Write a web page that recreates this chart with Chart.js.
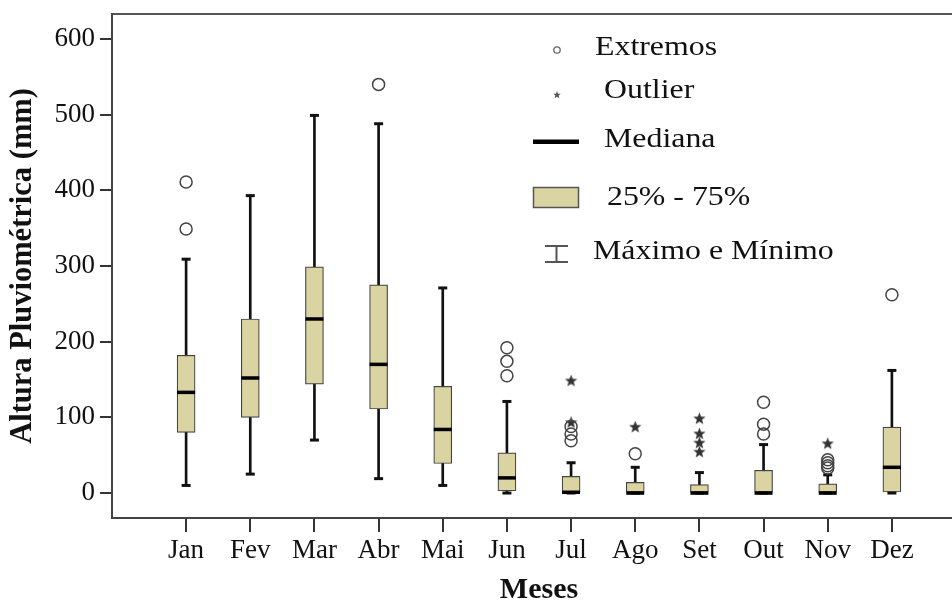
<!DOCTYPE html>
<html>
<head>
<meta charset="utf-8">
<script src="https://cdn.jsdelivr.net/npm/chart.js@4.4.0/dist/chart.umd.min.js"></script>
<style>
  html, body { margin: 0; padding: 0; background: #fff; overflow: hidden; }
  #wrap { width: 952px; height: 608px; overflow: hidden; }
</style>
</head>
<body>
<div id="wrap"><canvas id="boxChart" width="966" height="608"></canvas></div>
<script>
// monthly rainfall summary (mm)
const months = ['Jan', 'Fev', 'Mar', 'Abr', 'Mai', 'Jun', 'Jul', 'Ago', 'Set', 'Out', 'Nov', 'Dez'];
const whiskerLow  = [10, 25, 70, 19, 10, 0, 0, 0, 0, 0, 0, 0];
const quartile1   = [80, 100, 144, 111, 39, 3, 0, 0, 0, 0, 0, 0];
const medians     = [133, 152, 230, 170, 84, 20, 1, 0, 0, 0, 0, 34];
const quartile3   = [182, 230, 299, 275, 141, 53, 22, 14, 11, 30, 12, 87];
const whiskerHigh = [309, 393, 499, 488, 271, 121, 40, 34, 27, 64, 24, 162];
const extremes = [[411, 349], [], [], [540], [], [192, 174, 155], [88, 78, 69], [52], [], [120, 91, 78], [44, 40, 36, 33], [262]];
const outliers = [[], [], [], [], [], [], [148, 93], [87], [98, 78, 66, 54], [], [65], []];
const yTicks = [0, 100, 200, 300, 400, 500, 600];
const legendLabels = ['Extremos', 'Outlier', 'Mediana', '25% - 75%', 'Máximo e Mínimo'];

const BOX_FILL = '#d9d4a2';
const SERIF = '"Liberation Serif", "Times New Roman", serif';


function makeStar(size, color) {

    const c = document.createElement('canvas');
    c.width = c.height = size;
    const g = c.getContext('2d');
    const r = size / 2;
    const ri = r * 0.42;

    g.beginPath();
    for (let i = 0; i < 10; i++) {
        const a = -Math.PI / 2 + i * Math.PI / 5;
        const rr = i % 2 ? ri : r;
        g.lineTo(r + rr * Math.cos(a), r + rr * Math.sin(a));
    }
    g.closePath();
    g.fillStyle = color;
    g.fill();
    return c;
}

const starPoint = makeStar(13, '#333');
const starSmall = makeStar(8, '#555');

const atMonth = (vals) => vals.map((v, i) => ({ x: i + 1, y: v }));
const whiskerData = months.map((m, i) => ({ x: i + 1, y: [whiskerLow[i], whiskerHigh[i]] }));
const boxData = months.map((m, i) => ({ x: i + 1, y: [quartile1[i], quartile3[i]] }));
const capData = atMonth(whiskerLow).concat(atMonth(whiskerHigh));
const extremeData = extremes.flatMap((list, i) => list.map(v => ({ x: i + 1, y: v })));
const outlierData = outliers.flatMap((list, i) => list.map(v => ({ x: i + 1, y: v })));


// legend box drawn inside the plot, top right
const legendPlugin = {

    id: 'boxLegend',
    afterDraw(chart) {

        const ctx = chart.ctx;
        ctx.save();

        // icons
        ctx.strokeStyle = '#666';
        ctx.lineWidth = 1.3;
        ctx.beginPath();
        ctx.arc(557, 50, 3.2, 0, Math.PI * 2);
        ctx.stroke();

        ctx.drawImage(starSmall, 553, 91);

        ctx.fillStyle = '#000';
        ctx.fillRect(533, 139.5, 46, 4.5);

        ctx.fillStyle = BOX_FILL;
        ctx.strokeStyle = '#555';
        ctx.lineWidth = 1.5;
        ctx.fillRect(533.5, 187.5, 45, 20);
        ctx.strokeRect(533.5, 187.5, 45, 20);

        ctx.strokeStyle = '#555';
        ctx.lineWidth = 2;
        ctx.beginPath();
        ctx.moveTo(545, 246); ctx.lineTo(568, 246);
        ctx.moveTo(556.5, 246); ctx.lineTo(556.5, 262);
        ctx.moveTo(545, 262); ctx.lineTo(568, 262);
        ctx.stroke();

        // labels
        const rows = [[595, 48], [604, 91], [604, 140], [607, 198], [593, 252]];
        ctx.font = '27px ' + SERIF;
        ctx.fillStyle = '#111';
        ctx.textBaseline = 'middle';
        legendLabels.forEach((text, i) => {
            ctx.save();
            ctx.translate(rows[i][0], rows[i][1]);
            ctx.scale(1.18, 1);
            ctx.fillText(text, 0, 0);
            ctx.restore();
        });

        ctx.restore();
    }
};


function initializeChart() {

    const ctx = document.getElementById('boxChart').getContext('2d');

    new Chart(ctx, {

        type: 'scatter',
        data: {

            datasets: [
                {
                    label: 'Extremos',
                    data: extremeData,
                    pointStyle: 'circle',
                    pointRadius: 6,
                    pointBorderWidth: 1.5,
                    pointBorderColor: '#444',
                    pointBackgroundColor: 'rgba(0,0,0,0)',
                    order: 0
                },
                {
                    label: 'Outlier',
                    data: outlierData,
                    pointStyle: starPoint,
                    order: 0
                },
                {
                    label: 'Mediana',
                    data: atMonth(medians),
                    pointStyle: 'line',
                    pointRadius: 9,
                    pointBorderWidth: 3.5,
                    pointBorderColor: '#000',
                    order: 1
                },
                {
                    label: 'Máximo e Mínimo',
                    data: capData,
                    pointStyle: 'line',
                    pointRadius: 4.5,
                    pointBorderWidth: 3,
                    pointBorderColor: '#111',
                    order: 1
                },
                {
                    type: 'bar',
                    label: '25% - 75%',
                    data: boxData,
                    grouped: false,
                    barThickness: 18,
                    backgroundColor: BOX_FILL,
                    borderColor: '#444',
                    borderWidth: 1.2,
                    borderSkipped: false,
                    order: 2
                },
                {
                    type: 'bar',
                    label: 'whisker',
                    data: whiskerData,
                    grouped: false,
                    barThickness: 2,
                    backgroundColor: '#111',
                    borderWidth: 0,
                    order: 3
                }
            ]
        },
        options: {

            responsive: false,
            animation: false,
            events: [],
            layout: { autoPadding: false, padding: { top: 14, left: 0, right: 0, bottom: 0 } },
            plugins: {
                legend: { display: false },
                tooltip: { enabled: false }
            },
            scales: {

                x: {
                    type: 'linear',
                    position: 'bottom',
                    bounds: 'data',
                    min: -0.155,
                    max: 13.155,
                    offset: false,
                    afterFit: (scale) => { scale.height = 90; },
                    afterBuildTicks: (scale) => {
                        scale.ticks = months.map((m, i) => ({ value: i + 1 }));
                    },
                    ticks: {
                        includeBounds: false,
                        autoSkip: false,
                        maxRotation: 0,
                        padding: 3,
                        color: '#111',
                        font: { family: SERIF, size: 27 },
                        callback: (value) => months[value - 1] || ''
                    },
                    grid: {
                        offset: false,
                        drawOnChartArea: false,
                        tickLength: 14,
                        color: '#333',
                        lineWidth: 2
                    },
                    border: { display: true, color: '#444', width: 2 },
                    title: {
                        display: true,
                        text: 'Meses',
                        color: '#111',
                        font: { family: SERIF, size: 30, weight: 'bold' },
                        padding: { top: 0, bottom: 0 }
                    }
                },
                xTop: {
                    type: 'linear',
                    position: 'top',
                    afterFit: (scale) => { scale.height = 0; },
                    ticks: { display: false },
                    grid: { drawOnChartArea: false, drawTicks: false },
                    border: { display: true, color: '#555', width: 2 }
                },
                y: {
                    type: 'linear',
                    bounds: 'data',
                    min: -33,
                    max: 633,
                    afterFit: (scale) => { scale.width = 112; },
                    afterBuildTicks: (scale) => {
                        scale.ticks = yTicks.map(v => ({ value: v }));
                    },
                    ticks: {
                        includeBounds: false,
                        padding: 5,
                        color: '#111',
                        font: { family: SERIF, size: 27, lineHeight: 0.6 }
                    },
                    grid: {
                        drawOnChartArea: false,
                        tickLength: 12,
                        color: '#333',
                        lineWidth: 2
                    },
                    border: { display: true, color: '#444', width: 2 },
                    title: {
                        display: true,
                        text: 'Altura Pluviométrica (mm)',
                        color: '#111',
                        font: { family: SERIF, size: 30.5, weight: 'bold' },
                        padding: { top: 5, bottom: 0 }
                    }
                }
            }
        },
        plugins: [legendPlugin]
    });
}


window.onload = function () {

    initializeChart();
};
</script>
</body>
</html>
